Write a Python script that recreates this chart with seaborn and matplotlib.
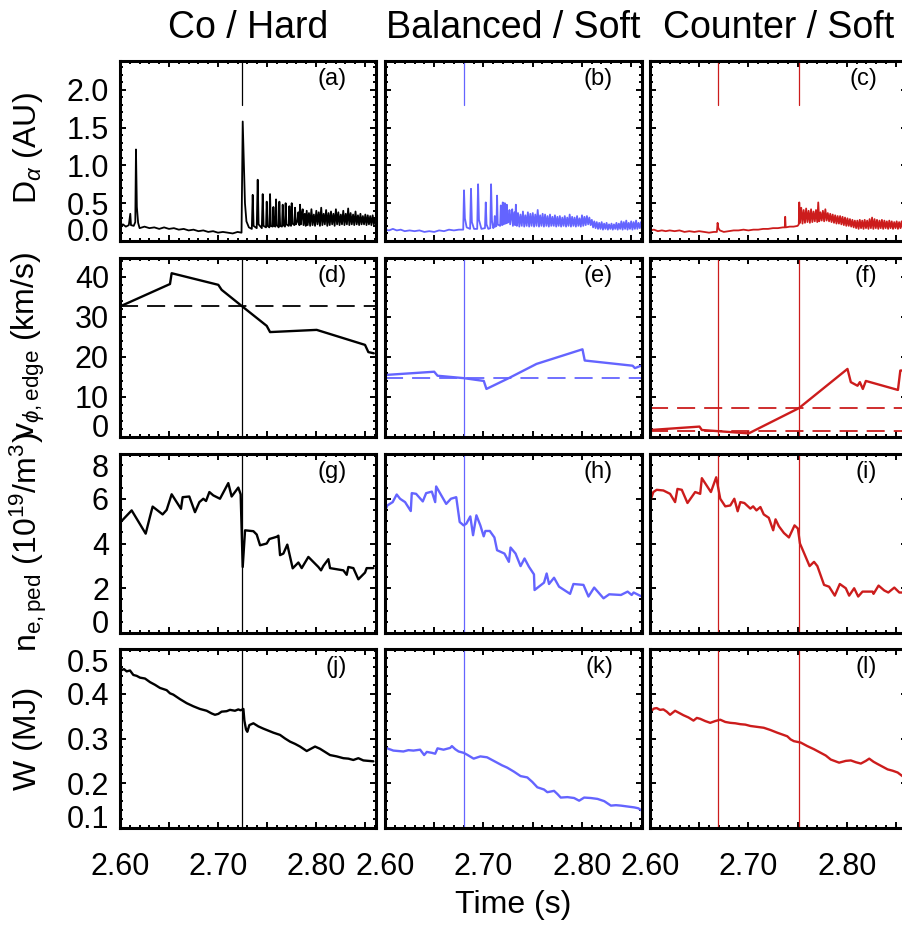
import matplotlib
matplotlib.use('Agg')
import matplotlib.pyplot as plt
import matplotlib.ticker as mticker
import seaborn as sns

# ---- data ----
titles = ['Co / Hard', 'Balanced / Soft', 'Counter / Soft']
colors = ['black', '#6464FF', '#CC1C1C']
panel_tags = [['(a)', '(b)', '(c)'], ['(d)', '(e)', '(f)'],
              ['(g)', '(h)', '(i)'], ['(j)', '(k)', '(l)']]
row_labels = [r'D$_{\alpha}$ (AU)', r'v$_{\phi,\mathrm{edge}}$ (km/s)',
              r'n$_{\mathrm{e,ped}}$ (10$^{19}$/m$^{3}$)', 'W (MJ)']
vline_times = [[2.7245], [2.680], [2.669, 2.751]]
vrot_ref = [[32.6], [14.7], [7.2, 1.6]]

# D-alpha (AU)
da_co_t = [2.6000, 2.6030, 2.6060, 2.6090, 2.6105, 2.6112, 2.6140, 2.6156, 2.6163, 2.6172, 2.6185, 2.6200,
           2.6250, 2.6300, 2.6350, 2.6400, 2.6450, 2.6500, 2.6550, 2.6600, 2.6650, 2.6700, 2.6750, 2.6800,
           2.6850, 2.6900, 2.6950, 2.7000, 2.7050, 2.7100, 2.7150, 2.7200, 2.7240, 2.7252, 2.7262, 2.7275,
           2.7290, 2.7315, 2.7345, 2.7354, 2.7363, 2.7395, 2.7405, 2.7414, 2.7447, 2.7456, 2.7465, 2.7490,
           2.7497, 2.7505, 2.7524, 2.7531, 2.7539, 2.7558, 2.7565, 2.7573, 2.7585, 2.7592, 2.7600, 2.7619,
           2.7626, 2.7634, 2.7653, 2.7660, 2.7668, 2.7683, 2.7690, 2.7698, 2.7721, 2.7728, 2.7736, 2.7745,
           2.7752, 2.7760, 2.7779, 2.7786, 2.7794, 2.7810, 2.7820, 2.7830, 2.7837, 2.7845, 2.7855, 2.7864,
           2.7872, 2.7885, 2.7895, 2.7905, 2.7915, 2.7928, 2.7940, 2.7953, 2.7965, 2.7978, 2.7990, 2.8003,
           2.8015, 2.8028, 2.8040, 2.8053, 2.8065, 2.8078, 2.8090, 2.8103, 2.8115, 2.8128, 2.8140, 2.8153,
           2.8165, 2.8178, 2.8190, 2.8203, 2.8215, 2.8228, 2.8240, 2.8253, 2.8265, 2.8278, 2.8290, 2.8303,
           2.8315, 2.8328, 2.8340, 2.8353, 2.8365, 2.8378, 2.8390, 2.8403, 2.8415, 2.8428, 2.8440, 2.8453,
           2.8465, 2.8478, 2.8490, 2.8503, 2.8515, 2.8528, 2.8540, 2.8553, 2.8565, 2.8578, 2.8590, 2.8603,
           2.8612]
da_co = [0.20, 0.22, 0.19, 0.21, 0.36, 0.21, 0.20, 0.25, 1.21, 0.45, 0.24, 0.17,
         0.19, 0.17, 0.18, 0.16, 0.18, 0.16, 0.17, 0.15, 0.16, 0.14, 0.15, 0.13,
         0.14, 0.12, 0.13, 0.11, 0.12, 0.11, 0.10, 0.12, 0.11, 1.58, 1.10, 0.50,
         0.26, 0.18, 0.16, 0.61, 0.20, 0.17, 0.81, 0.22, 0.17, 0.62, 0.20, 0.18,
         0.52, 0.20, 0.18, 0.62, 0.20, 0.19, 0.45, 0.20, 0.19, 0.55, 0.21, 0.18,
         0.52, 0.20, 0.19, 0.48, 0.21, 0.19, 0.50, 0.22, 0.20, 0.46, 0.22, 0.20,
         0.50, 0.23, 0.21, 0.44, 0.22, 0.26, 0.38, 0.21, 0.48, 0.22, 0.35, 0.42,
         0.21, 0.36, 0.20, 0.40, 0.21, 0.37, 0.20, 0.42, 0.21, 0.35, 0.20, 0.40,
         0.22, 0.38, 0.20, 0.44, 0.21, 0.36, 0.22, 0.41, 0.20, 0.37, 0.21, 0.39,
         0.22, 0.36, 0.20, 0.42, 0.22, 0.38, 0.21, 0.35, 0.22, 0.40, 0.21, 0.36,
         0.22, 0.43, 0.21, 0.37, 0.22, 0.35, 0.21, 0.39, 0.22, 0.34, 0.21, 0.36,
         0.22, 0.33, 0.22, 0.35, 0.21, 0.34, 0.22, 0.33, 0.21, 0.34, 0.22, 0.30,
         0.24]

da_bal_t = [2.6000, 2.6040, 2.6080, 2.6120, 2.6160, 2.6200, 2.6250, 2.6300, 2.6350, 2.6400, 2.6450, 2.6500,
            2.6550, 2.6600, 2.6650, 2.6700, 2.6750, 2.6795, 2.6803, 2.6812, 2.6830, 2.6865, 2.6874, 2.6883,
            2.6905, 2.6937, 2.6946, 2.6955, 2.6980, 2.7016, 2.7024, 2.7032, 2.7050, 2.7070, 2.7078, 2.7087,
            2.7100, 2.7110, 2.7116, 2.7122, 2.7133, 2.7139, 2.7146, 2.7170, 2.7177, 2.7184, 2.7191, 2.7197,
            2.7204, 2.7212, 2.7218, 2.7225, 2.7232, 2.7238, 2.7245, 2.7258, 2.7265, 2.7272, 2.7286, 2.7293,
            2.7300, 2.7315, 2.7322, 2.7330, 2.7340, 2.7352, 2.7365, 2.7377, 2.7390, 2.7402, 2.7415, 2.7427,
            2.7440, 2.7452, 2.7465, 2.7477, 2.7490, 2.7502, 2.7515, 2.7527, 2.7540, 2.7552, 2.7565, 2.7577,
            2.7590, 2.7602, 2.7615, 2.7627, 2.7640, 2.7652, 2.7665, 2.7677, 2.7690, 2.7702, 2.7715, 2.7727,
            2.7740, 2.7752, 2.7765, 2.7777, 2.7790, 2.7802, 2.7815, 2.7827, 2.7840, 2.7852, 2.7865, 2.7877,
            2.7890, 2.7902, 2.7915, 2.7927, 2.7940, 2.7952, 2.7965, 2.7977, 2.7990, 2.8002, 2.8015, 2.8027,
            2.8040, 2.8052, 2.8065, 2.8077, 2.8090, 2.8102, 2.8115, 2.8127, 2.8140, 2.8152, 2.8165, 2.8177,
            2.8190, 2.8202, 2.8215, 2.8227, 2.8240, 2.8252, 2.8265, 2.8277, 2.8290, 2.8302, 2.8315, 2.8327,
            2.8340, 2.8352, 2.8365, 2.8377, 2.8390, 2.8402, 2.8415, 2.8427, 2.8440, 2.8452, 2.8465, 2.8477,
            2.8490, 2.8502, 2.8515, 2.8527, 2.8540, 2.8552, 2.8565, 2.8577, 2.8590, 2.8602, 2.8612]
da_bal = [0.15, 0.14, 0.16, 0.14, 0.15, 0.13, 0.14, 0.13, 0.14, 0.12, 0.13, 0.12,
          0.14, 0.13, 0.15, 0.14, 0.15, 0.15, 0.67, 0.30, 0.18, 0.16, 0.69, 0.25,
          0.16, 0.16, 0.75, 0.28, 0.16, 0.17, 0.51, 0.22, 0.16, 0.17, 0.75, 0.27,
          0.17, 0.19, 0.33, 0.19, 0.20, 0.60, 0.22, 0.20, 0.47, 0.22, 0.21, 0.51,
          0.22, 0.23, 0.50, 0.23, 0.24, 0.48, 0.24, 0.26, 0.41, 0.22, 0.34, 0.42,
          0.20, 0.38, 0.21, 0.48, 0.20, 0.37, 0.19, 0.35, 0.20, 0.39, 0.19, 0.34,
          0.20, 0.38, 0.19, 0.36, 0.20, 0.37, 0.19, 0.35, 0.20, 0.41, 0.19, 0.34,
          0.20, 0.36, 0.19, 0.35, 0.20, 0.33, 0.19, 0.35, 0.20, 0.32, 0.20, 0.34,
          0.19, 0.32, 0.20, 0.33, 0.19, 0.31, 0.20, 0.33, 0.19, 0.31, 0.20, 0.35,
          0.19, 0.32, 0.20, 0.31, 0.19, 0.33, 0.20, 0.30, 0.19, 0.34, 0.20, 0.32,
          0.21, 0.33, 0.22, 0.31, 0.21, 0.28, 0.18, 0.26, 0.17, 0.25, 0.16, 0.24,
          0.16, 0.25, 0.15, 0.23, 0.16, 0.24, 0.15, 0.22, 0.16, 0.23, 0.15, 0.22,
          0.16, 0.24, 0.15, 0.23, 0.16, 0.26, 0.15, 0.25, 0.16, 0.27, 0.15, 0.24,
          0.16, 0.26, 0.15, 0.25, 0.16, 0.27, 0.16, 0.24, 0.17, 0.25, 0.20]

da_cnt_t = [2.6000, 2.6040, 2.6080, 2.6120, 2.6160, 2.6200, 2.6250, 2.6300, 2.6350, 2.6400, 2.6450, 2.6500,
            2.6550, 2.6600, 2.6650, 2.6680, 2.6687, 2.6695, 2.6710, 2.6750, 2.6800, 2.6850, 2.6900, 2.6950,
            2.7000, 2.7050, 2.7100, 2.7150, 2.7200, 2.7250, 2.7300, 2.7350, 2.7370, 2.7374, 2.7379, 2.7420,
            2.7460, 2.7500, 2.7512, 2.7517, 2.7525, 2.7537, 2.7550, 2.7562, 2.7575, 2.7587, 2.7600, 2.7612,
            2.7625, 2.7637, 2.7650, 2.7662, 2.7675, 2.7687, 2.7700, 2.7710, 2.7720, 2.7732, 2.7745, 2.7757,
            2.7770, 2.7782, 2.7795, 2.7807, 2.7820, 2.7832, 2.7845, 2.7857, 2.7870, 2.7882, 2.7895, 2.7907,
            2.7920, 2.7932, 2.7945, 2.7957, 2.7970, 2.7982, 2.7995, 2.8007, 2.8020, 2.8032, 2.8045, 2.8057,
            2.8070, 2.8082, 2.8095, 2.8107, 2.8120, 2.8132, 2.8145, 2.8157, 2.8170, 2.8182, 2.8195, 2.8207,
            2.8220, 2.8232, 2.8245, 2.8257, 2.8270, 2.8282, 2.8295, 2.8307, 2.8320, 2.8332, 2.8345, 2.8357,
            2.8370, 2.8382, 2.8395, 2.8407, 2.8420, 2.8432, 2.8445, 2.8457, 2.8470, 2.8482, 2.8495, 2.8507,
            2.8520, 2.8532, 2.8545, 2.8557, 2.8570, 2.8582, 2.8595, 2.8607, 2.8620]
da_cnt = [0.14, 0.15, 0.13, 0.14, 0.13, 0.14, 0.13, 0.14, 0.12, 0.13, 0.12, 0.13,
          0.12, 0.11, 0.12, 0.12, 0.24, 0.17, 0.14, 0.12, 0.13, 0.14, 0.14, 0.15,
          0.14, 0.15, 0.15, 0.16, 0.16, 0.17, 0.17, 0.18, 0.18, 0.32, 0.18, 0.19,
          0.19, 0.20, 0.22, 0.51, 0.24, 0.44, 0.23, 0.41, 0.24, 0.43, 0.25, 0.40,
          0.24, 0.42, 0.25, 0.39, 0.26, 0.41, 0.25, 0.51, 0.26, 0.38, 0.27, 0.40,
          0.26, 0.42, 0.27, 0.37, 0.26, 0.36, 0.25, 0.35, 0.24, 0.34, 0.23, 0.33,
          0.23, 0.33, 0.22, 0.32, 0.21, 0.31, 0.20, 0.30, 0.20, 0.29, 0.19, 0.28,
          0.18, 0.27, 0.17, 0.27, 0.16, 0.28, 0.17, 0.27, 0.16, 0.28, 0.17, 0.27,
          0.16, 0.29, 0.17, 0.31, 0.16, 0.29, 0.17, 0.28, 0.16, 0.27, 0.17, 0.28,
          0.16, 0.27, 0.17, 0.26, 0.16, 0.27, 0.17, 0.26, 0.16, 0.25, 0.17, 0.26,
          0.16, 0.25, 0.17, 0.26, 0.16, 0.25, 0.17, 0.24, 0.19]

# edge toroidal rotation (km/s)
vr_co_t = [2.6000, 2.6510, 2.6527, 2.7003, 2.7037, 2.7248, 2.7497, 2.7531, 2.8007, 2.8500, 2.8534, 2.8590]
vr_co = [32.6, 38.2, 40.9, 38.0, 36.75, 32.6, 27.75, 26.2, 26.75, 23.0, 21.2, 20.9]
vr_bal_t = [2.6010, 2.6500, 2.6534, 2.6800, 2.7004, 2.7031, 2.7258, 2.7540, 2.8007, 2.8030, 2.8517, 2.8540, 2.8602]
vr_bal = [15.5, 16.3, 15.3, 14.7, 14.0, 12.0, 14.7, 18.25, 21.9, 19.1, 17.8, 17.2, 17.8]
vr_cnt_t = [2.6007, 2.6503, 2.6527, 2.7003, 2.7513, 2.8007, 2.8041, 2.8109, 2.8133, 2.8163, 2.8194,
            2.8520, 2.8544, 2.8620]
vr_cnt = [1.75, 2.6, 1.75, 0.9, 7.2, 17.0, 13.7, 12.8, 13.7, 12.0, 14.0, 11.75, 16.6, 16.6]

# pedestal density (1e19 m^-3)
ne_co_t = [2.6007, 2.6119, 2.6262, 2.6306, 2.6333, 2.6435, 2.6476, 2.6527, 2.6622, 2.6639, 2.6707, 2.6765,
           2.6810, 2.6850, 2.6878, 2.6912, 2.6952, 2.7020, 2.7105, 2.7139, 2.7207, 2.7231, 2.7252, 2.7276,
           2.7361, 2.7395, 2.7429, 2.7497, 2.7524, 2.7599, 2.7616, 2.7633, 2.7667, 2.7707, 2.7762, 2.7820,
           2.7854, 2.7922, 2.8024, 2.8051, 2.8075, 2.8126, 2.8143, 2.8211, 2.8279, 2.8313, 2.8330, 2.8381,
           2.8432, 2.8500, 2.8517, 2.8585]
ne_co = [4.96, 5.48, 4.44, 5.20, 5.65, 5.30, 5.50, 6.20, 5.55, 6.07, 6.10, 5.40,
         5.85, 6.00, 5.90, 6.30, 6.15, 6.00, 6.70, 6.10, 6.50, 6.20, 2.95, 4.59,
         4.55, 4.40, 3.92, 4.00, 4.20, 4.30, 4.35, 3.48, 3.55, 3.95, 2.89, 3.15,
         2.90, 3.40, 2.95, 2.80, 3.00, 3.30, 2.90, 2.85, 2.80, 2.60, 2.95, 2.90,
         2.40, 2.70, 2.90, 2.90]
ne_bal_t = [2.6010, 2.6024, 2.6078, 2.6119, 2.6153, 2.6204, 2.6262, 2.6272, 2.6316, 2.6384, 2.6418, 2.6476,
            2.6510, 2.6520, 2.6622, 2.6670, 2.6724, 2.6759, 2.6799, 2.6827, 2.6867, 2.6895, 2.6929, 2.6969,
            2.7003, 2.7020, 2.7065, 2.7112, 2.7139, 2.7214, 2.7259, 2.7276, 2.7327, 2.7378, 2.7418, 2.7463,
            2.7514, 2.7520, 2.7616, 2.7643, 2.7667, 2.7718, 2.7769, 2.7881, 2.7915, 2.8017, 2.8068, 2.8126,
            2.8221, 2.8279, 2.8398, 2.8466, 2.8507, 2.8527, 2.8609]
ne_bal = [5.56, 5.70, 5.85, 6.19, 6.00, 5.85, 5.45, 6.25, 6.22, 5.88, 6.25, 6.32,
          5.85, 6.55, 5.77, 6.00, 6.07, 4.96, 4.81, 4.89, 5.21, 4.37, 5.26, 4.81,
          4.32, 4.56, 4.56, 4.27, 3.70, 3.55, 3.18, 3.82, 3.55, 2.99, 3.33, 2.96,
          2.62, 1.92, 2.25, 2.66, 2.19, 2.47, 2.07, 1.75, 2.19, 2.15, 1.63, 2.03,
          1.55, 1.73, 1.70, 1.85, 1.70, 1.81, 1.63]
ne_cnt_t = [2.6007, 2.6034, 2.6068, 2.6136, 2.6204, 2.6255, 2.6279, 2.6323, 2.6381, 2.6459, 2.6510, 2.6527,
            2.6619, 2.6673, 2.6714, 2.6765, 2.6816, 2.6857, 2.6891, 2.6918, 2.6959, 2.7020, 2.7048, 2.7082,
            2.7122, 2.7156, 2.7207, 2.7252, 2.7276, 2.7310, 2.7361, 2.7412, 2.7469, 2.7503, 2.7524, 2.7565,
            2.7622, 2.7667, 2.7701, 2.7769, 2.7820, 2.7878, 2.7929, 2.7990, 2.8024, 2.8075, 2.8116, 2.8160,
            2.8262, 2.8272, 2.8323, 2.8381, 2.8422, 2.8483, 2.8534, 2.8571, 2.8620]
ne_cnt = [5.96, 6.30, 6.40, 6.37, 6.22, 5.85, 6.44, 6.40, 5.81, 6.30, 6.22, 6.92,
          6.30, 6.96, 6.00, 5.66, 5.70, 6.00, 5.44, 5.85, 5.81, 5.56, 5.66, 5.48,
          5.63, 5.30, 5.15, 4.59, 5.08, 4.77, 4.47, 4.27, 4.81, 4.67, 4.00, 3.58,
          2.99, 3.18, 2.99, 2.15, 2.07, 1.67, 2.19, 2.00, 1.67, 2.00, 1.63, 1.85,
          1.85, 1.75, 2.12, 1.90, 1.81, 2.03, 1.81, 1.81, 1.80]

# stored energy (MJ)
w_co_t = [2.6007, 2.6041, 2.6068, 2.6102, 2.6136, 2.6170, 2.6204, 2.6255, 2.6306, 2.6357, 2.6408, 2.6476,
          2.6510, 2.6544, 2.6612, 2.6680, 2.6748, 2.6816, 2.6884, 2.6935, 2.6969, 2.7003, 2.7037, 2.7088,
          2.7122, 2.7173, 2.7207, 2.7231, 2.7259, 2.7269, 2.7286, 2.7299, 2.7320, 2.7361, 2.7412, 2.7463,
          2.7497, 2.7565, 2.7633, 2.7684, 2.7735, 2.7786, 2.7837, 2.7905, 2.7956, 2.7990, 2.8041, 2.8092,
          2.8143, 2.8211, 2.8279, 2.8330, 2.8381, 2.8432, 2.8483, 2.8534, 2.8585]
w_co = [0.452, 0.455, 0.450, 0.452, 0.442, 0.440, 0.436, 0.434, 0.426, 0.420, 0.413, 0.408,
        0.401, 0.398, 0.388, 0.379, 0.372, 0.366, 0.362, 0.356, 0.353, 0.355, 0.360, 0.361,
        0.364, 0.362, 0.365, 0.363, 0.366, 0.340, 0.320, 0.315, 0.330, 0.334, 0.327, 0.322,
        0.319, 0.313, 0.308, 0.300, 0.293, 0.288, 0.282, 0.272, 0.278, 0.282, 0.277, 0.270,
        0.263, 0.260, 0.256, 0.255, 0.252, 0.256, 0.251, 0.250, 0.249]
w_bal_t = [2.6010, 2.6085, 2.6136, 2.6187, 2.6238, 2.6289, 2.6357, 2.6398, 2.6425, 2.6476, 2.6510, 2.6534,
           2.6595, 2.6629, 2.6663, 2.6680, 2.6714, 2.6748, 2.6799, 2.6833, 2.6901, 2.6969, 2.7037, 2.7088,
           2.7139, 2.7190, 2.7241, 2.7310, 2.7378, 2.7446, 2.7497, 2.7548, 2.7616, 2.7650, 2.7718, 2.7752,
           2.7786, 2.7854, 2.7922, 2.7973, 2.8024, 2.8092, 2.8160, 2.8228, 2.8296, 2.8347, 2.8398, 2.8466,
           2.8534, 2.8575, 2.8609]
w_bal = [0.279, 0.273, 0.272, 0.271, 0.274, 0.273, 0.275, 0.263, 0.270, 0.268, 0.266, 0.278,
         0.275, 0.277, 0.279, 0.283, 0.276, 0.271, 0.268, 0.264, 0.255, 0.260, 0.258, 0.252,
         0.246, 0.240, 0.235, 0.226, 0.216, 0.213, 0.203, 0.191, 0.186, 0.180, 0.183, 0.176,
         0.168, 0.169, 0.167, 0.161, 0.168, 0.167, 0.165, 0.160, 0.150, 0.151, 0.150, 0.148,
         0.146, 0.144, 0.139]
w_cnt_t = [2.6007, 2.6041, 2.6068, 2.6102, 2.6136, 2.6170, 2.6204, 2.6255, 2.6289, 2.6340, 2.6391, 2.6442,
           2.6476, 2.6510, 2.6561, 2.6612, 2.6663, 2.6714, 2.6765, 2.6816, 2.6867, 2.6918, 2.6969, 2.7020,
           2.7088, 2.7156, 2.7224, 2.7293, 2.7344, 2.7395, 2.7429, 2.7463, 2.7531, 2.7599, 2.7667, 2.7735,
           2.7786, 2.7837, 2.7922, 2.7990, 2.8041, 2.8092, 2.8143, 2.8194, 2.8228, 2.8272, 2.8313, 2.8364,
           2.8415, 2.8466, 2.8517, 2.8571, 2.8602]
w_cnt = [0.361, 0.367, 0.368, 0.364, 0.365, 0.360, 0.353, 0.362, 0.358, 0.352, 0.347, 0.340,
         0.346, 0.344, 0.339, 0.335, 0.339, 0.342, 0.337, 0.335, 0.334, 0.332, 0.331, 0.328,
         0.326, 0.324, 0.319, 0.313, 0.309, 0.305, 0.298, 0.294, 0.291, 0.283, 0.276, 0.268,
         0.262, 0.253, 0.246, 0.250, 0.251, 0.247, 0.244, 0.250, 0.255, 0.248, 0.243, 0.237,
         0.231, 0.228, 0.224, 0.215, 0.213]

series = [[(da_co_t, da_co), (da_bal_t, da_bal), (da_cnt_t, da_cnt)],
          [(vr_co_t, vr_co), (vr_bal_t, vr_bal), (vr_cnt_t, vr_cnt)],
          [(ne_co_t, ne_co), (ne_bal_t, ne_bal), (ne_cnt_t, ne_cnt)],
          [(w_co_t, w_co), (w_bal_t, w_bal), (w_cnt_t, w_cnt)]]

# axis setup per row: limits, major ticks, labels, minor step
ylims = [(0, 2.38), (0, 44.7), (0, 8), (0.1, 0.5)]
yticks = [[0, 0.5, 1.0, 1.5, 2.0], [0, 10, 20, 30, 40], [0, 2, 4, 6, 8], [0.1, 0.2, 0.3, 0.4, 0.5]]
yticklabels = [['0.0', '0.5', '1.0', '1.5', '2.0'], ['0', '10', '20', '30', '40'],
               ['0', '2', '4', '6', '8'], ['0.1', '0.2', '0.3', '0.4', '0.5']]
yminor = [0.1, 2, 0.5, 0.02]
xticks = [2.60, 2.65, 2.70, 2.75, 2.80, 2.85]
xticklabels = ['2.60', '', '2.70', '', '2.80', '']

sns.set_style('ticks')
plt.rcParams['font.family'] = ['Liberation Sans', 'DejaVu Sans']
plt.rcParams['mathtext.fontset'] = 'custom'
plt.rcParams['mathtext.rm'] = 'Liberation Sans'
plt.rcParams['mathtext.it'] = 'Liberation Sans:italic'
plt.rcParams['mathtext.bf'] = 'Liberation Sans:bold'
plt.rcParams['text.color'] = 'black'
plt.rcParams['xtick.color'] = 'black'
plt.rcParams['ytick.color'] = 'black'
plt.rcParams['xtick.labelcolor'] = 'black'
plt.rcParams['ytick.labelcolor'] = 'black'

W, H = 902, 930
fig = plt.figure(figsize=(W / 100, H / 100), dpi=100)

col_left = [120, 385, 650]
col_w = [256, 257, 257]
row_top = [61, 258, 454, 649]
row_h = [180, 179, 179, 179]

for r in range(4):
    for c in range(3):
        ax = fig.add_axes([col_left[c] / W, 1 - (row_top[r] + row_h[r]) / H, col_w[c] / W, row_h[r] / H])
        t, v = series[r][c]
        lw = 1.3 if r == 0 else 1.7
        sns.lineplot(x=t, y=v, ax=ax, color=colors[c], lw=lw, sort=False, estimator=None)

        for tv in vline_times[c]:
            if r == 0:
                ax.axvline(tv, ymin=0.755, ymax=1, color=colors[c], lw=0.9)
            else:
                ax.axvline(tv, color=colors[c], lw=0.9)
        if r == 1:
            for lev in vrot_ref[c]:
                ax.axhline(lev, color=colors[c], lw=1.3, ls=(0, (10, 5)))

        ax.set_xlim(2.60, 2.8612)
        ax.set_ylim(*ylims[r])
        ax.xaxis.set_major_locator(mticker.FixedLocator(xticks))
        ax.xaxis.set_minor_locator(mticker.MultipleLocator(0.01))
        ax.yaxis.set_major_locator(mticker.FixedLocator(yticks[r]))
        ax.yaxis.set_minor_locator(mticker.MultipleLocator(yminor[r]))
        if r == 3:
            ax.xaxis.set_major_formatter(mticker.FixedFormatter(xticklabels))
        else:
            ax.xaxis.set_major_formatter(mticker.NullFormatter())
        if c == 0:
            ax.yaxis.set_major_formatter(mticker.FixedFormatter(yticklabels[r]))
        else:
            ax.yaxis.set_major_formatter(mticker.NullFormatter())
        ax.tick_params(which='both', direction='in', top=True, right=True, width=1.4, color='black')
        ax.tick_params(which='major', length=4.5)
        ax.tick_params(which='minor', length=2.2)
        ax.tick_params(axis='x', which='major', pad=17, labelsize=22)
        ax.tick_params(axis='y', which='major', pad=8, labelsize=22)
        for sp in ax.spines.values():
            sp.set_linewidth(2.2)
            sp.set_color('black')
        ax.set_xlabel('')
        ax.set_ylabel('')

        if c == 0:
            ticks = ax.yaxis.get_major_ticks()
            ticks[0].label1.set_va('baseline')
            if ylims[r][1] == yticks[r][-1]:
                ticks[-1].label1.set_va('top')

        ax.text(1 - 29 / col_w[c] if c < 2 else 1 - 30 / col_w[c], 1 - 7 / row_h[r], panel_tags[r][c],
                transform=ax.transAxes, ha='right', va='top', fontsize=17)

for c in range(3):
    fig.text((col_left[c] + col_w[c] / 2) / W, 1 - 28 / H, titles[c], ha='center', va='center', fontsize=27)

row_centers = [148, 345, 542, 738]
for r in range(4):
    fig.text(28 / W, 1 - row_centers[r] / H, row_labels[r], rotation=90, ha='center', va='center', fontsize=23)

fig.text(513 / W, 1 - 905 / H, 'Time (s)', ha='center', va='center', fontsize=23)

plt.savefig('out.png', dpi=100)
